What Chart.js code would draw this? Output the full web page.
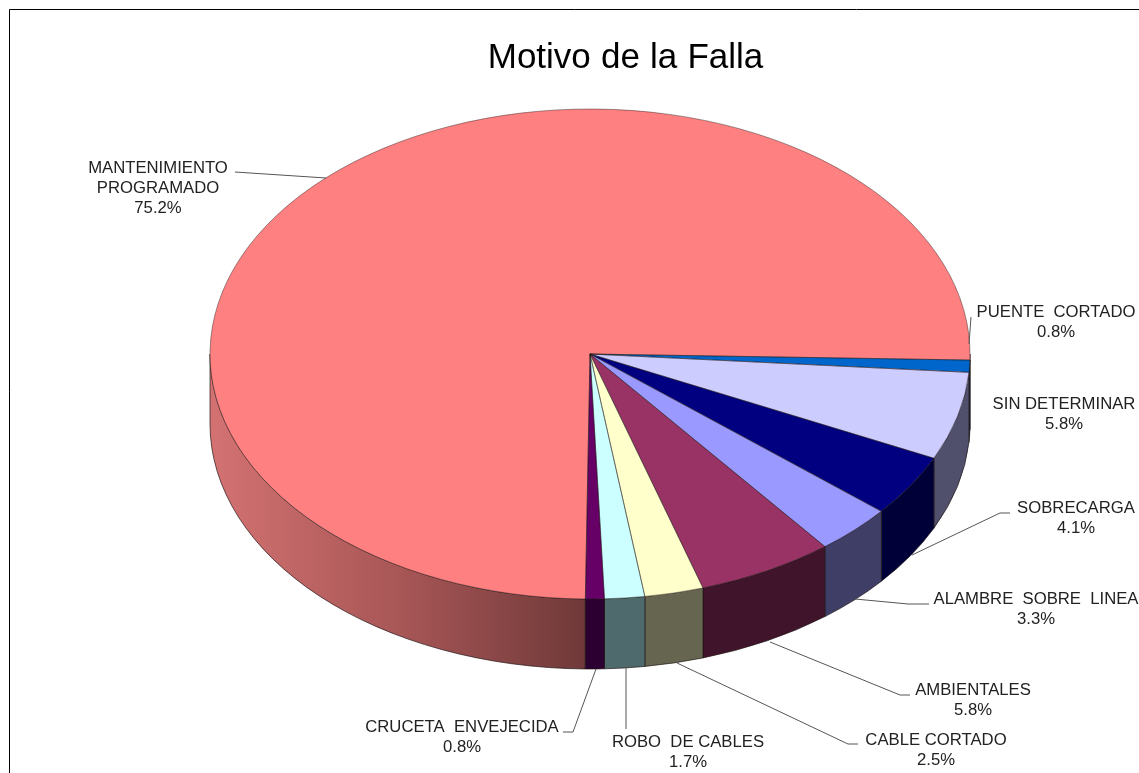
<!DOCTYPE html>
<html>
<head>
<meta charset="utf-8">
<script src="https://cdn.jsdelivr.net/npm/chart.js@4/dist/chart.umd.min.js"></script>
<style>
html,body{margin:0;padding:0;background:#fff;overflow:hidden}
canvas{display:block}
</style>
</head>
<body>
<canvas id="c" width="1139" height="773"></canvas>
<script>
const chartTitle = 'Motivo de la Falla';
const categories = ['MANTENIMIENTO\nPROGRAMADO','PUENTE  CORTADO','SIN DETERMINAR','SOBRECARGA','ALAMBRE  SOBRE  LINEA','AMBIENTALES','CABLE CORTADO','ROBO  DE CABLES','CRUCETA  ENVEJECIDA'];
const values = [75.2,0.8,5.8,4.1,3.3,5.8,2.5,1.7,0.8];
const topColors = ['#FF8080','#0066CC','#CCCCFF','#000080','#9999FF','#993366','#FFFFCC','#CCFFFF','#660066'];
const sideColors = [null,'#003060','#50506C','#000038','#3E3E66','#40142A','#666650','#4F6A6C','#2C0030'];
const labelAnchors = [[158,168],[1056,312],[1064,404],[1076,508],[1036,599],[973,690],[936,740],[688,742],[462,727]];
const leaders = [
  [[235,172],[326,178]],
  [[971,317],[969,344]],
  [],
  [[1010,513],[1000,513],[912,555]],
  [[929,604],[908,604],[855,599]],
  [[910,695],[900,695],[770,642]],
  [[858,744],[848,744],[677,663]],
  [[626,729],[626,667]],
  [[563,732],[573,732],[596,669]]
];
const rotationDeg = 180.7, radiusX = 380, radiusY = 245, depth = 70;

function parts(a0,a1){
  const out=[];
  for(const k of [0,2]){
    const lo=Math.max(a0,k*Math.PI), hi=Math.min(a1,k*Math.PI+Math.PI);
    if(hi>lo) out.push([lo,hi]);
  }
  return out;
}
const pie3d = {
  id:'pie3d',
  beforeDatasetsDraw(chart){
    const ctx=chart.ctx, arcs=chart.getDatasetMeta(0).data;
    const first=arcs[0].getProps(['x','y']);
    const cx=first.x, cy=first.y;
    arcs.forEach((arc,i)=>{
      const p=arc.getProps(['startAngle','endAngle']);
      parts(p.startAngle,p.endAngle).forEach(([lo,hi])=>{
        ctx.beginPath();
        ctx.ellipse(cx,cy,radiusX,radiusY,0,lo,hi);
        ctx.ellipse(cx,cy+depth,radiusX,radiusY,0,hi,lo,true);
        ctx.closePath();
        if(sideColors[i]){ctx.fillStyle=sideColors[i];}
        else{
          const g=ctx.createLinearGradient(cx-radiusX,0,cx,0);
          g.addColorStop(0,'#D47272');
          g.addColorStop(0.5,'#A85656');
          g.addColorStop(1,'#6E3838');
          ctx.fillStyle=g;
        }
        ctx.fill();
        ctx.lineWidth=0.8;
        ctx.strokeStyle='rgba(30,20,20,0.85)';
        ctx.stroke();
      });
    });
    ctx.save();
    ctx.translate(cx,cy);
    ctx.scale(radiusX/arcs[0].outerRadius,radiusY/arcs[0].outerRadius);
    ctx.translate(-cx,-cy);
  },
  afterDatasetsDraw(chart){
    const ctx=chart.ctx, arcs=chart.getDatasetMeta(0).data;
    ctx.restore();
    const cx=arcs[0].x, cy=arcs[0].y;
    ctx.lineWidth=0.7;
    ctx.strokeStyle='rgba(30,20,20,0.6)';
    arcs.forEach(arc=>{
      const p=arc.getProps(['startAngle','endAngle']);
      ctx.beginPath();
      ctx.moveTo(cx,cy);
      ctx.ellipse(cx,cy,radiusX,radiusY,0,p.startAngle,p.endAngle);
      ctx.closePath();
      ctx.stroke();
    });
    ctx.lineWidth=1;
    ctx.strokeStyle='#555';
    leaders.forEach(pts=>{
      if(!pts.length) return;
      ctx.beginPath();
      pts.forEach((q,k)=>k?ctx.lineTo(q[0],q[1]):ctx.moveTo(q[0],q[1]));
      ctx.stroke();
    });
    ctx.fillStyle='#222';
    ctx.font='16.7px "Liberation Sans"';
    ctx.textAlign='center';
    ctx.textBaseline='middle';
    categories.forEach((name,i)=>{
      const lines=name.split('\n').concat(values[i].toFixed(1)+'%');
      lines.forEach((t,k)=>ctx.fillText(t,labelAnchors[i][0],labelAnchors[i][1]+k*20));
    });
    ctx.fillStyle='#000';
    ctx.font='35px "Liberation Sans"';
    ctx.wordSpacing='0.4px';
    ctx.fillText(chartTitle,625.5,58);
    ctx.wordSpacing='0px';
    ctx.strokeStyle='#000';
    ctx.lineWidth=1;
    ctx.beginPath();
    ctx.moveTo(9.5,773);ctx.lineTo(9.5,9.5);ctx.lineTo(1139,9.5);
    ctx.stroke();
  }
};
new Chart(document.getElementById('c'),{
  type:'pie',
  data:{labels:categories,datasets:[{data:values,backgroundColor:topColors,borderWidth:0,clip:false}]},
  options:{
    responsive:false,
    animation:false,
    rotation:rotationDeg,
    layout:{padding:{left:345,right:304,top:109,bottom:174}},
    plugins:{legend:{display:false},title:{display:false},tooltip:{enabled:false}}
  },
  plugins:[pie3d]
});
</script>
</body>
</html>
